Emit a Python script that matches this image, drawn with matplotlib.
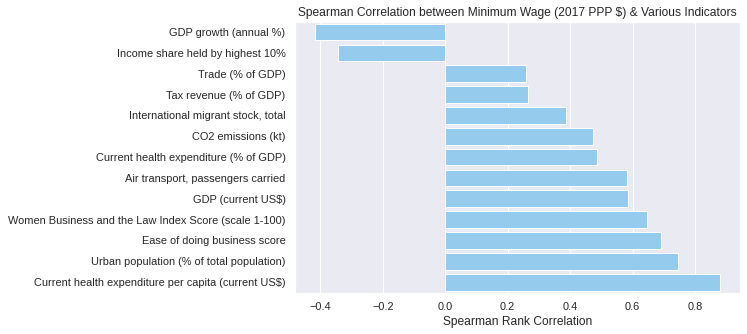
import matplotlib
matplotlib.use("Agg")
import matplotlib.pyplot as plt
import seaborn as sns

indicators = [
    "GDP growth (annual %)",
    "Income share held by highest 10%",
    "Trade (% of GDP)",
    "Tax revenue (% of GDP)",
    "International migrant stock, total",
    "CO2 emissions (kt)",
    "Current health expenditure (% of GDP)",
    "Air transport, passengers carried",
    "GDP (current US$)",
    "Women Business and the Law Index Score (scale 1-100)",
    "Ease of doing business score",
    "Urban population (% of total population)",
    "Current health expenditure per capita (current US$)",
]
spearman = [-0.416, -0.343, 0.260, 0.266, 0.386, 0.474, 0.487,
            0.583, 0.586, 0.646, 0.691, 0.745, 0.879]

sns.set_theme(style="darkgrid")
plt.rcParams["font.family"] = ["Liberation Sans", "DejaVu Sans"]

DPI = 72
fig = plt.figure(figsize=(747 / DPI, 334 / DPI), dpi=DPI)
ax = fig.add_axes([0.395, 0.124, 0.5956, 0.811])

sns.barplot(x=spearman, y=indicators, color="lightskyblue", orient="h",
            edgecolor="white", linewidth=1, ax=ax)

ax.set_title("Spearman Correlation between Minimum Wage (2017 PPP $) & Various Indicators", fontsize=12)
ax.set_xlabel("Spearman Rank Correlation", fontsize=12)
ax.set_ylabel("")
ax.tick_params(labelsize=11)

fig.savefig("out.png", dpi=DPI)
